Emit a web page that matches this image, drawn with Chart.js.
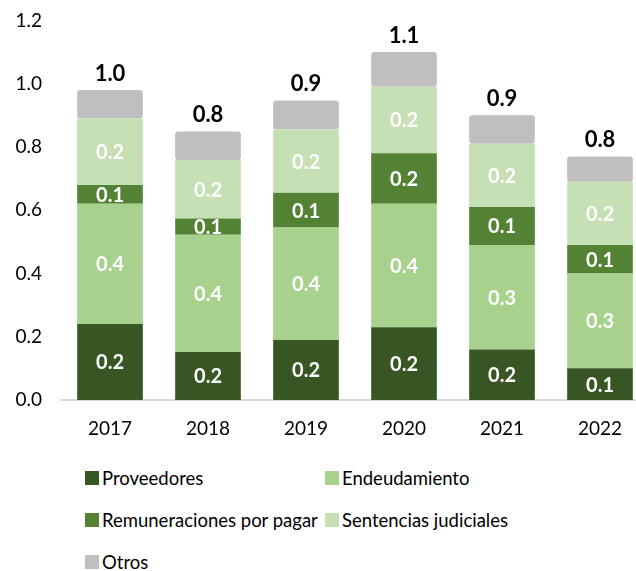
<!DOCTYPE html>
<html>
<head>
<meta charset="utf-8">
<script src="https://cdn.jsdelivr.net/npm/chart.js@4"></script>
<style>
  body { margin: 0; background: #fff; font-family: Lato, sans-serif; }
  #wrap { position: relative; width: 636px; height: 571px; overflow: hidden; }
  #chart { position: absolute; left: 0; top: -10px; }
  #legend { position: absolute; left: 85px; top: 466px; display: grid;
    grid-template-columns: 240px auto; row-gap: 18px; font-size: 18.5px; color: #000; }
  .item { display: flex; align-items: center; height: 24px; white-space: nowrap; }
  .box { width: 14px; height: 14px; margin-right: 3px; }
</style>
</head>
<body>
<div id="wrap">
  <canvas id="chart" width="660" height="455"></canvas>
  <div id="legend"></div>
</div>
<script>
const years = ['2017', '2018', '2019', '2020', '2021', '2022'];
const proveedores = [0.24, 0.152, 0.19, 0.23, 0.16, 0.10];
const endeudamiento = [0.38, 0.37, 0.355, 0.39, 0.33, 0.30];
const remuneraciones = [0.06, 0.052, 0.11, 0.16, 0.12, 0.09];
const sentencias = [0.21, 0.185, 0.20, 0.21, 0.20, 0.20];
const otros = [0.09, 0.09, 0.092, 0.11, 0.09, 0.08];
const yTicks = [0, 0.2, 0.4, 0.6, 0.8, 1.0, 1.2];

const series = [
  { label: 'Proveedores', data: proveedores, color: '#375623', showLabel: true },
  { label: 'Endeudamiento', data: endeudamiento, color: '#A9D18E', showLabel: true },
  { label: 'Remuneraciones por pagar', data: remuneraciones, color: '#548235', showLabel: true },
  { label: 'Sentencias judiciales', data: sentencias, color: '#C5E0B4', showLabel: true, radius: 3 },
  { label: 'Otros', data: otros, color: '#BFBFBF', showLabel: false, radius: 3 },
];

const totals = years.map((_, i) => series.reduce((s, d) => s + d.data[i], 0));

const labelPlugin = {
  id: 'segmentLabels',
  afterDatasetsDraw(chart) {
    const ctx = chart.ctx;
    ctx.save();
    ctx.textAlign = 'center';
    ctx.textBaseline = 'middle';
    ctx.font = 'bold 20px Lato';
    ctx.fillStyle = '#fff';
    chart.data.datasets.forEach((ds, i) => {
      if (!series[i].showLabel) return;
      chart.getDatasetMeta(i).data.forEach((bar, j) => {
        ctx.fillText(ds.data[j].toFixed(1), bar.x, (bar.y + bar.base) / 2 + 1);
      });
    });
    const top = chart.getDatasetMeta(series.length - 1).data;
    ctx.font = 'bold 22px Lato';
    ctx.fillStyle = '#000';
    ctx.textBaseline = 'alphabetic';
    top.forEach((bar, j) => {
      ctx.fillText(totals[j].toFixed(1), bar.x, bar.y - 9);
    });
    ctx.restore();
  }
};

const chart = new Chart(document.getElementById('chart'), {
  type: 'bar',
  data: {
    labels: years,
    datasets: series.map(s => ({
      label: s.label,
      data: s.data,
      backgroundColor: s.color,
      borderRadius: s.radius || 0,
      borderSkipped: false,
      barPercentage: 0.67,
      categoryPercentage: 1,
    })),
  },
  options: {
    responsive: false,
    animation: false,
    layout: { padding: { top: 0, right: 11, left: 0, bottom: 0 } },
    plugins: { legend: { display: false }, tooltip: { enabled: false } },
    scales: {
      x: {
        stacked: true,
        grid: { display: false },
        border: { display: true, color: '#D9D9D9', width: 2 },
        ticks: { color: '#000', font: { family: 'Lato', size: 19 }, padding: 9 },
        afterFit: scale => { scale.height = 45; },
      },
      y: {
        stacked: true,
        min: 0,
        max: 1.2,
        afterBuildTicks: scale => { scale.ticks = yTicks.map(v => ({ value: v })); },
        grid: { display: false, drawTicks: false },
        border: { display: false },
        ticks: { color: '#000', font: { family: 'Lato', size: 19 }, padding: 19,
          callback: v => v.toFixed(1) },
        afterFit: scale => { scale.width = 61; },
      },
    },
  },
  plugins: [labelPlugin],
});

const legend = document.getElementById('legend');
chart.data.datasets.forEach(ds => {
  const item = document.createElement('div');
  item.className = 'item';
  const box = document.createElement('span');
  box.className = 'box';
  box.style.background = ds.backgroundColor;
  item.appendChild(box);
  item.appendChild(document.createTextNode(ds.label));
  legend.appendChild(item);
});
</script>
</body>
</html>
